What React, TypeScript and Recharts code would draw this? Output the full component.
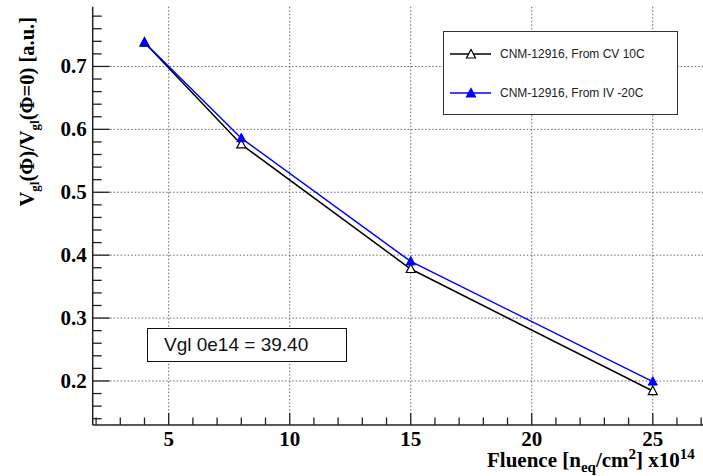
import React from "react";
import { LineChart, Line, XAxis, YAxis, CartesianGrid, Legend } from "recharts";

// fluence in 1e14 n_eq/cm^2, ratio Vgl(phi)/Vgl(0)
const fluence = [4, 8, 15, 25];
const fromCV = [0.738, 0.576, 0.378, 0.184];
const fromIV = [0.738, 0.586, 0.39, 0.199];
const seriesNames = ["CNM-12916, From CV 10C", "CNM-12916, From IV -20C"];

const xMajorTicks = [5, 10, 15, 20, 25];
const yMajorTicks = [0.2, 0.3, 0.4, 0.5, 0.6, 0.7];
const xDomain = [1.86, 27.2];
const yDomain = [0.13, 0.795];

const data = fluence.map((f, i) => ({ fluence: f, cv: fromCV[i], iv: fromIV[i] }));

// minor ticks: 1 unit on x, 0.02 on y
const xAllTicks: number[] = [];
for (let v = 2; v <= 27; v++) xAllTicks.push(v);
const yAllTicks: number[] = [];
for (let i = 7; i <= 39; i++) yAllTicks.push(Math.round(i * 2) / 100);

const axisColor = "#222";
const serif = "'Liberation Serif', 'Times New Roman', serif";
const sans = "'Liberation Sans', Arial, sans-serif";

const XTick = (props: any) => {
  const { x, y, payload } = props;
  const major = xMajorTicks.includes(payload.value);
  return (
    <g>
      <line x1={x} y1={y} x2={x} y2={y - (major ? 12 : 7.5)} stroke={axisColor} strokeWidth={1.3} />
      {major && (
        <text x={x} y={y + 21} textAnchor="middle" fontFamily={serif} fontWeight="bold" fontSize={21} fill="#000">
          {payload.value}
        </text>
      )}
    </g>
  );
};

const YTick = (props: any) => {
  const { x, y, payload } = props;
  const major = yMajorTicks.some((m) => Math.abs(m - payload.value) < 1e-6);
  return (
    <g>
      <line x1={x} y1={y} x2={x + (major ? 17 : 9)} y2={y} stroke={axisColor} strokeWidth={1.3} />
      {major && (
        <text x={x - 6} y={y + 7} textAnchor="end" fontFamily={serif} fontWeight="bold" fontSize={21} fill="#000">
          {payload.value.toFixed(1)}
        </text>
      )}
    </g>
  );
};

const YTitle = () => (
  <text
    transform="translate(33.5,17) rotate(-90)"
    textAnchor="end"
    fontFamily={serif}
    fontWeight="bold"
    fontSize={20.5}
    fill="#000"
  >
    V<tspan fontSize={13} dy={5}>gl</tspan>
    <tspan dy={-5}>(Φ)/V</tspan>
    <tspan fontSize={13} dy={5}>gl</tspan>
    <tspan dy={-5}>(Φ=0) [a.u.]</tspan>
  </text>
);

const XTitle = () => (
  <text x={487} y={467} fontFamily={serif} fontWeight="bold" fontSize={21} fill="#000">
    Fluence [n<tspan fontSize={15} dy={5}>eq</tspan>
    <tspan dy={-5}>/cm</tspan>
    <tspan fontSize={15} dy={-8}>2</tspan>
    <tspan dy={8}>] x10</tspan>
    <tspan fontSize={15} dy={-8}>14</tspan>
  </text>
);

const tri = (cx: number, cy: number) => `${cx},${cy - 5} ${cx - 4.5},${cy + 3.5} ${cx + 4.5},${cy + 3.5}`;

const OpenTriangle = (props: any) => {
  const { cx, cy } = props;
  return <polygon points={tri(cx, cy)} fill="#fff" stroke="#000" strokeWidth={1.2} />;
};

const FilledTriangle = (props: any) => {
  const { cx, cy } = props;
  return <polygon points={tri(cx, cy)} fill="#0000ff" stroke="#0000ff" strokeWidth={1} />;
};

const LegendBox = () => {
  const rows = [
    { name: seriesNames[0], color: "#000", open: true },
    { name: seriesNames[1], color: "#0000ff", open: false },
  ];
  return (
    <div
      style={{
        boxSizing: "border-box",
        width: 235,
        height: 84,
        background: "#fff",
        border: "1.5px solid #333",
        paddingTop: 12,
      }}
    >
      {rows.map((r) => (
        <div key={r.name} style={{ display: "flex", alignItems: "center", height: 20, marginBottom: 19 }}>
          <svg width={56} height={20}>
            <line x1={6} y1={10} x2={47} y2={10} stroke={r.color} strokeWidth={1.3} />
            <polygon
              points={tri(27, 10.5)}
              fill={r.open ? "#fff" : r.color}
              stroke={r.color}
              strokeWidth={1.2}
            />
          </svg>
          <span style={{ fontFamily: sans, fontSize: 12, color: "#222" }}>{r.name}</span>
        </div>
      ))}
    </div>
  );
};

export default function App() {
  return (
    <div
      style={{
        position: "fixed",
        left: 0,
        top: 0,
        width: 703,
        height: 476,
        overflow: "hidden",
        background: "#fff",
      }}
    >
      <LineChart width={730} height={476} data={data} margin={{ top: 6.7, right: 24, bottom: 0, left: 32.7 }}>
        <CartesianGrid
          stroke="#666"
          strokeDasharray="1.5 2"
          strokeWidth={1}
          horizontalValues={yMajorTicks}
          verticalValues={xMajorTicks}
        />
        <XAxis
          dataKey="fluence"
          type="number"
          domain={xDomain}
          allowDataOverflow
          ticks={xAllTicks}
          interval={0}
          tickSize={0}
          tickMargin={0}
          tickLine={false}
          tick={<XTick />}
          height={51}
          axisLine={{ stroke: axisColor, strokeWidth: 1.5 }}
          label={<XTitle />}
        />
        <XAxis
          xAxisId="top"
          orientation="top"
          type="number"
          domain={xDomain}
          allowDataOverflow
          tick={false}
          tickLine={false}
          height={0}
          axisLine={{ stroke: axisColor, strokeWidth: 1.5 }}
        />
        <YAxis
          type="number"
          domain={yDomain}
          allowDataOverflow
          ticks={yAllTicks}
          interval={0}
          tickSize={0}
          tickMargin={0}
          tickLine={false}
          tick={<YTick />}
          width={60}
          axisLine={{ stroke: axisColor, strokeWidth: 1.5 }}
          label={<YTitle />}
        />
        <Legend
          layout="vertical"
          align="center"
          verticalAlign="middle"
          wrapperStyle={{ left: 443, top: 31, width: 235, height: 84 }}
          content={() => <LegendBox />}
        />
        <Line
          dataKey="cv"
          name={seriesNames[0]}
          stroke="#000"
          strokeWidth={1.5}
          dot={<OpenTriangle />}
          isAnimationActive={false}
        />
        <Line
          dataKey="iv"
          name={seriesNames[1]}
          stroke="#0000ff"
          strokeWidth={1.5}
          dot={<FilledTriangle />}
          isAnimationActive={false}
        />
      </LineChart>
      <div
        style={{
          position: "absolute",
          left: 147,
          top: 328,
          width: 200,
          height: 34,
          boxSizing: "border-box",
          border: "1.5px solid #111",
          background: "#fff",
          fontFamily: sans,
          fontSize: 19,
          lineHeight: "31px",
          paddingLeft: 16,
          color: "#111",
        }}
      >
        Vgl 0e14 = 39.40
      </div>
    </div>
  );
}
